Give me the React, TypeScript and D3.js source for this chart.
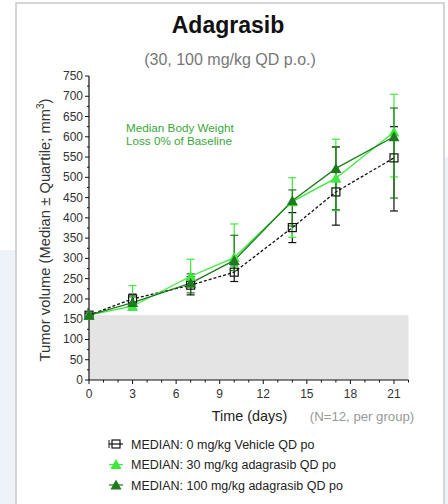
import React from 'react'
import { scaleLinear, line, range } from 'd3'

const days = [0, 3, 7, 10, 14, 17, 21]

const vehicleMedian = [160, 200, 234, 266, 376, 464, 548]
const vehicleLow = [155, 185, 210, 243, 339, 382, 417]
const vehicleHigh = [165, 212, 255, 284, 413, 575, 625]

const mg30Median = [160, 182, 256, 302, 440, 498, 612]
const mg30Low = [155, 172, 238, 280, 352, 418, 501]
const mg30High = [165, 233, 298, 385, 499, 594, 705]

const mg100Median = [160, 191, 239, 295, 442, 522, 600]
const mg100Low = [155, 175, 215, 270, 380, 420, 449]
const mg100High = [165, 205, 262, 357, 469, 575, 671]

const yTicks = range(0, 751, 50)
const xTicks = [0, 3, 6, 9, 12, 15, 18, 21]
const baseline = 160

const legendLabels = [
    'MEDIAN: 0 mg/kg Vehicle QD po',
    'MEDIAN: 30 mg/kg adagrasib QD po',
    'MEDIAN: 100 mg/kg adagrasib QD po',
]

const font = "'Liberation Sans', Arial, sans-serif"
const light = '#3ee83e'
const dark = '#1f7a1f'

function App() {
    const width = 448
    const height = 504

    const x = scaleLinear().domain([0, 22]).range([89, 408.5])
    const y = scaleLinear().domain([0, 750]).range([380, 76])

    const series = [
        { median: vehicleMedian, low: vehicleLow, high: vehicleHigh, color: '#111', dash: '3,2', shape: 'square' },
        { median: mg30Median, low: mg30Low, high: mg30High, color: light, dash: null, shape: 'tri' },
        { median: mg100Median, low: mg100Low, high: mg100High, color: dark, dash: null, shape: 'tri' },
    ]

    const path = line<number>()
        .x((_, i) => x(days[i]))
        .y(d => y(d))

    const marker = (shape: string, cx: number, cy: number, color: string, key: string) =>
        shape === 'square' ? (
            <rect key={key} x={cx - 4} y={cy - 4} width={8} height={8} fill="none" stroke={color} strokeWidth={1.2} />
        ) : (
            <path key={key} d={`M${cx},${cy - 5.5}L${cx + 5.5},${cy + 4.5}L${cx - 5.5},${cy + 4.5}Z`} fill={color} />
        )

    return (
        <svg width={width} height={height} style={{ position: 'absolute', left: 0, top: 0 }} fontFamily={font}>
            <rect x={0} y={250} width={16} height={254} fill="#eef3fa" />
            <rect x={445} y={157} width={3} height={347} fill="#eef3fa" />
            <rect x={16} y={3} width={428} height={510} fill="#fff" stroke="#c8c8c8" strokeWidth={1.5} />

            <text x={228} y={33} textAnchor="middle" fontSize={23} fontWeight="bold" fill="#111">Adagrasib</text>
            <text x={230} y={65} textAnchor="middle" fontSize={16} fill="#777">(30, 100 mg/kg QD p.o.)</text>

            {/* grey baseline band */}
            <rect x={x(0)} y={y(baseline)} width={x(22) - x(0)} height={y(0) - y(baseline)} fill="#e4e4e4" />

            {/* y axis */}
            <line x1={x(0)} x2={x(0)} y1={y(0)} y2={y(750)} stroke="#111" strokeWidth={1.2} />
            {range(0, 751, 25).map(v => (
                <line key={v} x1={x(0) - (v % 50 === 0 ? 4 : 2)} x2={x(0)} y1={y(v)} y2={y(v)} stroke="#111" />
            ))}
            {yTicks.map(v => (
                <text key={v} x={x(0) - 6} y={y(v) + 4} textAnchor="end" fontSize={12} fill="#333">{v}</text>
            ))}

            {/* x axis */}
            <line x1={x(0)} x2={x(22)} y1={y(0)} y2={y(0)} stroke="#111" strokeWidth={1.2} />
            {range(0, 23).map(v => (
                <line key={v} x1={x(v)} x2={x(v)} y1={y(0)} y2={y(0) + (v % 3 === 0 ? 4 : 2.5)} stroke="#111" />
            ))}
            {xTicks.map(v => (
                <text key={v} x={x(v)} y={398} textAnchor="middle" fontSize={12} fill="#333">{v}</text>
            ))}

            <text x={249.5} y={421} textAnchor="middle" fontSize={14.4} fill="#222">Time (days)</text>
            <text x={362} y={421} textAnchor="middle" fontSize={13.2} fill="#999">(N=12, per group)</text>

            <text transform="translate(50,230) rotate(-90)" textAnchor="middle" fontSize={14.8} fill="#333">
                Tumor volume (Median ± Quartile; mm<tspan dy={-6} fontSize={10}>3</tspan><tspan dy={6}>)</tspan>
            </text>

            <text x={126} y={132} fontSize={11.7} fill="#3aa83a">Median Body Weight</text>
            <text x={126} y={145} fontSize={11.7} fill="#3aa83a">Loss 0% of Baseline</text>

            {/* error bars */}
            {series.map((s, si) =>
                days.map((d, i) => (
                    <g key={`e${si}-${i}`} stroke={s.color} strokeWidth={1.2}>
                        <line x1={x(d)} x2={x(d)} y1={y(s.low[i])} y2={y(s.high[i])} />
                        <line x1={x(d) - 4} x2={x(d) + 4} y1={y(s.low[i])} y2={y(s.low[i])} />
                        <line x1={x(d) - 4} x2={x(d) + 4} y1={y(s.high[i])} y2={y(s.high[i])} />
                    </g>
                ))
            )}

            {/* lines */}
            {series.map((s, si) => (
                <path key={`l${si}`} d={path(s.median) || ''} fill="none" stroke={s.color} strokeWidth={1.3}
                    strokeDasharray={s.dash || undefined} />
            ))}

            {/* markers */}
            {series.map((s, si) => s.median.map((v, i) => marker(s.shape, x(days[i]), y(v), s.color, `m${si}-${i}`)))}

            {/* legend */}
            {series.map((s, si) => {
                const ly = 444 + si * 20.5
                return (
                    <g key={`g${si}`}>
                        <line x1={109} x2={123} y1={ly} y2={ly} stroke={s.color} strokeWidth={1.2} />
                        {s.shape === 'square' && <line x1={109} x2={109} y1={ly - 4} y2={ly + 4} stroke={s.color} />}
                        {marker(s.shape, 116, ly, s.color, `lm${si}`)}
                        <text x={131} y={ly + 4.5} fontSize={12.5} fill="#222">{legendLabels[si]}</text>
                    </g>
                )
            })}
        </svg>
    )
}

export default App
